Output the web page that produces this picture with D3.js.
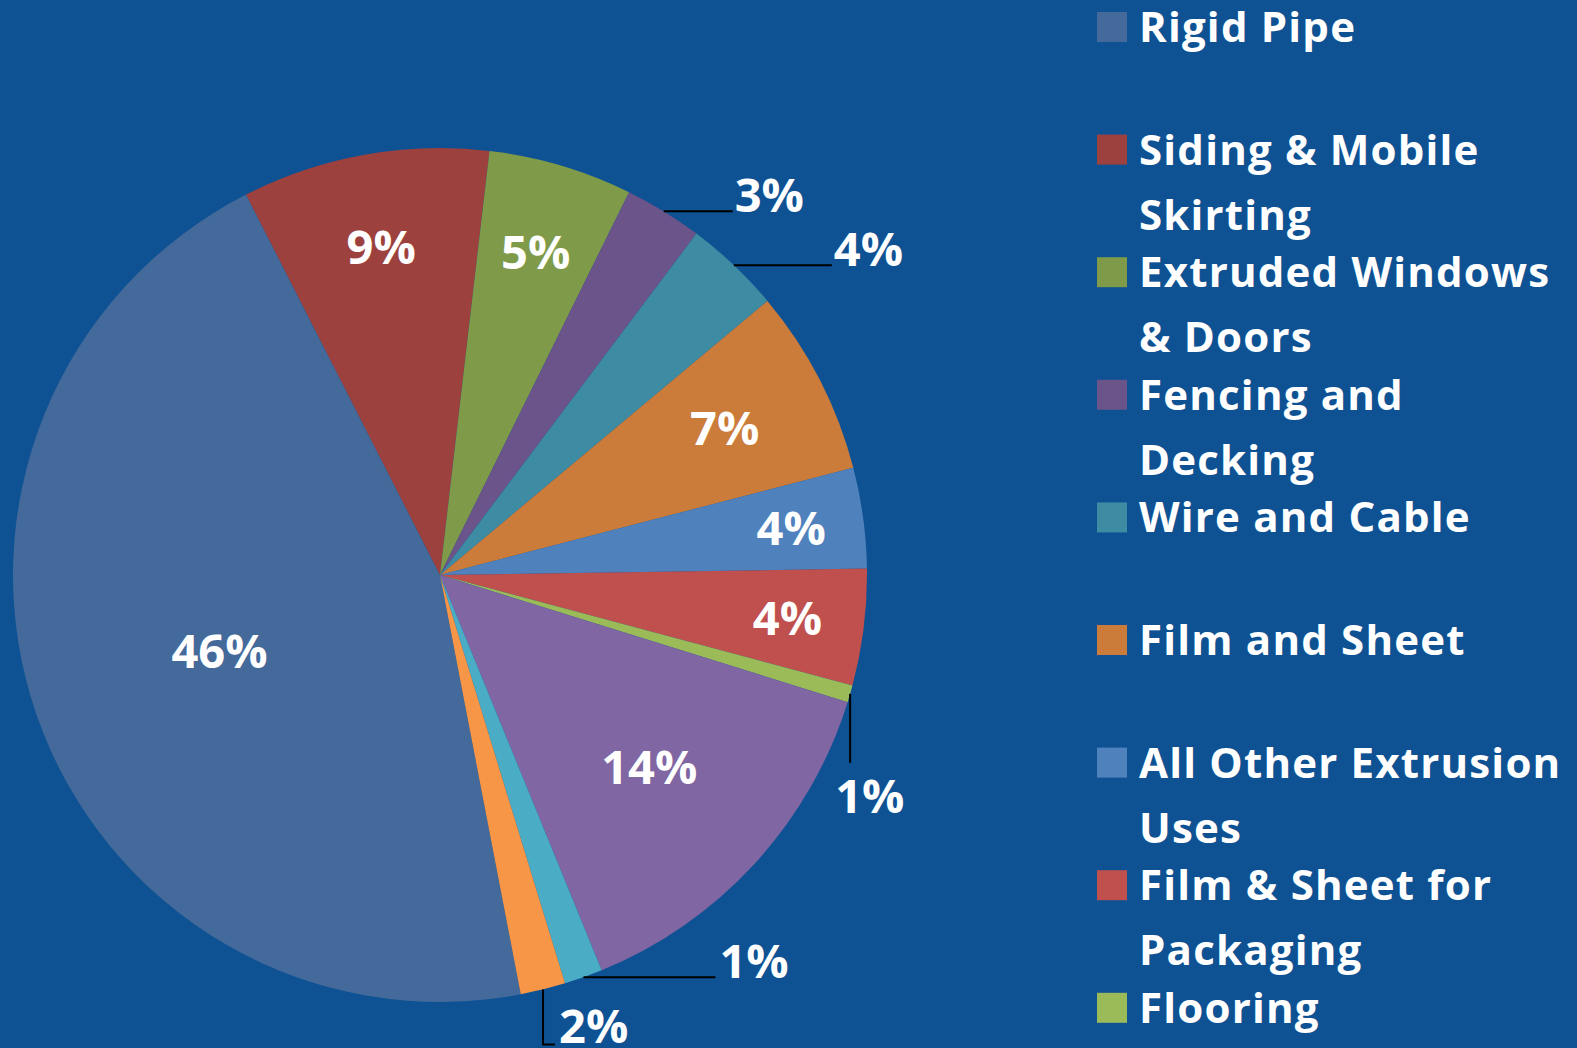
<!DOCTYPE html>
<html>
<head>
<meta charset="utf-8">
<script src="https://cdn.jsdelivr.net/npm/d3@7"></script>
<style>
    html, body { margin: 0; padding: 0; background: #0E5294; }
    #chart { width: 1577px; height: 1048px; }
    text { font-family: "Open Sans", "Noto Sans", sans-serif; font-weight: 700; fill: #ffffff; }
</style>
</head>
<body>
<div id="chart"></div>
<script>
(function(){

//categories, clockwise from Rigid Pipe (last three fall below the visible legend)
var categories = [
    "Rigid Pipe",
    "Siding & Mobile\nSkirting",
    "Extruded Windows\n& Doors",
    "Fencing and\nDecking",
    "Wire and Cable",
    "Film and Sheet",
    "All Other Extrusion\nUses",
    "Film & Sheet for\nPackaging",
    "Flooring",
    "Other Uses",
    "Bottles",
    "Injection Molding"
];

//share of each category, percent
var shares = [45.5, 9.35, 5.45, 2.95, 3.65, 7.05, 3.8, 4.4, 0.65, 14.0, 1.45, 1.7];

//label text shown on the pie
var shareLabels = ["46%", "9%", "5%", "3%", "4%", "7%", "4%", "4%", "1%", "14%", "1%", "2%"];

var colors = ["#436A9B", "#9D413E", "#7F9B49", "#6A5489", "#3D8CA3", "#CB7C3A",
              "#4F81BD", "#C0504D", "#9BBB59", "#8066A2", "#4BACC6", "#F79646"];

//where inside labels sit, as a fraction of the radius
var insideRadius = {0: 0.546, 1: 0.78, 2: 0.79, 5: 0.75, 6: 0.83, 7: 0.82, 9: 0.665};

//labels that sit outside the pie with a leader line
//kind "h": horizontal line then label; "v": vertical line down, label below; "l": down then right
var outside = {
    3:  {kind: "h", len: 69, gap: 2},
    4:  {kind: "h", len: 98, gap: 2},
    8:  {kind: "v", len: 69, dx: -15, dy: 119},
    10: {kind: "h", len: 132, gap: 4},
    11: {kind: "l", len: 55, foot: 12, gap: 4}
};

window.onload = setChart;

function setChart(){

    var width = 1577, height = 1048;
    var cx = 440, cy = 575, radius = 427;

    var svg = d3.select("#chart")
        .append("svg")
        .attr("width", width)
        .attr("height", height);

    svg.append("rect")
        .attr("width", width)
        .attr("height", height)
        .attr("fill", "#0E5294");

    var data = categories.map(function(c, i){
        return {name: c, value: shares[i], label: shareLabels[i], color: colors[i], index: i};
    });

    var start = 169.1 * Math.PI / 180;
    var pie = d3.pie()
        .sort(null)
        .value(function(d){ return d.value; })
        .startAngle(start)
        .endAngle(start + 2 * Math.PI);

    var arc = d3.arc().innerRadius(0).outerRadius(radius);

    var arcs = pie(data);

    var g = svg.append("g")
        .attr("transform", "translate(" + cx + "," + cy + ")");

    g.selectAll(".slice")
        .data(arcs)
        .enter()
        .append("path")
        .attr("class", "slice")
        .attr("d", arc)
        .attr("fill", function(d){ return d.data.color; });

    //inside labels
    g.selectAll(".inLabel")
        .data(arcs.filter(function(d){ return !outside[d.data.index]; }))
        .enter()
        .append("text")
        .attr("class", "inLabel")
        .attr("text-anchor", "middle")
        .attr("font-size", 47)
        .attr("x", function(d){ return labelPoint(d)[0]; })
        .attr("y", function(d){ return labelPoint(d)[1] + 17; })
        .text(function(d){ return d.data.label; });

    function labelPoint(d){
        var r = insideRadius[d.data.index] || 0.8;
        var a = (d.startAngle + d.endAngle) / 2;
        return [Math.sin(a) * radius * r, -Math.cos(a) * radius * r];
    }

    //outside labels with leader lines
    arcs.filter(function(d){ return outside[d.data.index]; }).forEach(function(d){
        var o = outside[d.data.index];
        var a = (d.startAngle + d.endAngle) / 2;
        var x0 = Math.sin(a) * radius, y0 = -Math.cos(a) * radius;
        var pts, tx, ty;
        if (o.kind === "h") {
            pts = [[x0, y0], [x0 + o.len, y0]];
            tx = x0 + o.len + o.gap; ty = y0 + 1;
        } else if (o.kind === "v") {
            pts = [[x0, y0], [x0, y0 + o.len]];
            tx = x0 + o.dx; ty = y0 + o.dy;
        } else {
            pts = [[x0, y0], [x0, y0 + o.len], [x0 + o.foot, y0 + o.len]];
            tx = x0 + o.foot + o.gap; ty = y0 + o.len - 1;
        }
        g.append("path")
            .attr("d", d3.line()(pts))
            .attr("fill", "none")
            .attr("stroke", "#000000")
            .attr("stroke-width", 2);
        g.append("text")
            .attr("font-size", 47)
            .attr("x", tx)
            .attr("y", ty)
            .text(d.data.label);
    });

    //legend: only the entries that fit in the frame are drawn
    var step = 122.6;
    var legend = svg.append("g")
        .attr("transform", "translate(1097,12)");

    var item = legend.selectAll(".legendItem")
        .data(data.filter(function(d, i){ return 12 + i * step + 30 < height; }))
        .enter()
        .append("g")
        .attr("class", "legendItem")
        .attr("transform", function(d, i){ return "translate(0," + (i * step) + ")"; });

    item.append("rect")
        .attr("width", 30)
        .attr("height", 30)
        .attr("fill", function(d){ return d.color; });

    item.append("text")
        .attr("font-size", 42)
        .attr("letter-spacing", 1.2)
        .attr("x", 42)
        .attr("y", 30)
        .selectAll("tspan")
        .data(function(d){ return d.name.split("\n"); })
        .enter()
        .append("tspan")
        .attr("x", 42)
        .attr("dy", function(d, i){ return i === 0 ? 0 : 65; })
        .text(function(d){ return d; });
};

})();
</script>
</body>
</html>
